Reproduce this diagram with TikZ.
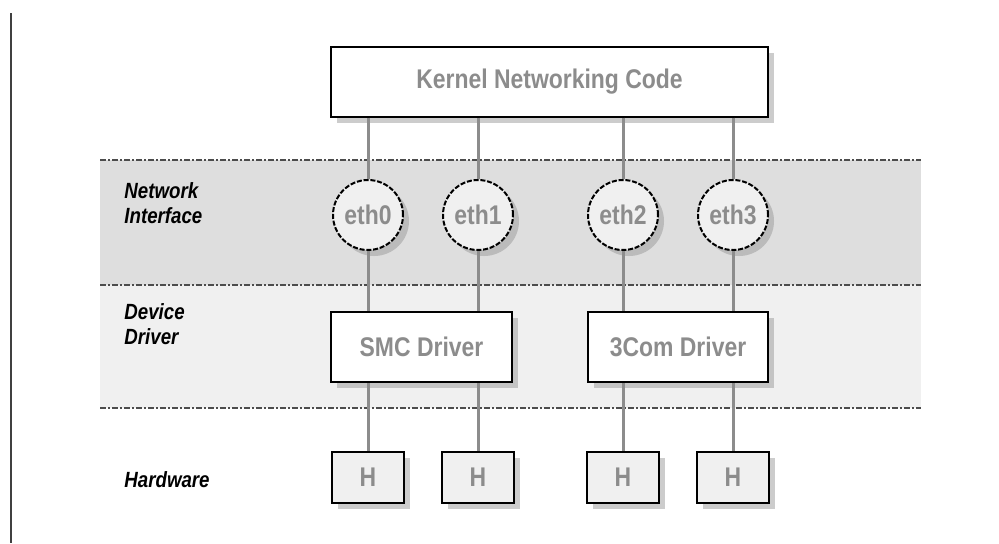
\documentclass[tikz,border=0pt]{standalone}
\usepackage{fontspec}
\setmainfont{Liberation Sans}
\newfontfamily\narrowfont[FakeStretch=0.85]{Liberation Sans}
\usetikzlibrary{shadows}

\begin{document}
\begin{tikzpicture}[x=0.5pt, y=-0.5pt,
  bandline/.style={draw=black!70, line width=0.7pt, dash pattern=on 3pt off 1pt on 1pt off 1pt},
  boxshadow/.style={drop shadow={shadow xshift=3pt, shadow yshift=-3pt, fill=black!40}},
  codebox/.style={draw=black, line width=1pt, fill=white, minimum height=35pt, inner sep=0pt,
    text=black!45, font=\narrowfont\bfseries\fontsize{13.5}{16}\selectfont, boxshadow},
  ethnode/.style={circle, draw=black, line width=1pt, dash pattern=on 2.5pt off 0.9pt, fill=black!6,
    minimum size=35pt, inner sep=0pt, text=black!45, font=\narrowfont\bfseries\fontsize{13.5}{16}\selectfont, boxshadow},
  hwbox/.style={draw=black, line width=1.3pt, fill=black!6, minimum width=36pt, minimum height=25.5pt, inner sep=0pt,
    text=black!45, font=\narrowfont\bfseries\fontsize{13.5}{16}\selectfont, boxshadow},
  layer/.style={anchor=west, align=left, inner sep=0pt, font=\narrowfont\bfseries\itshape\fontsize{11}{12.5}\selectfont},
  wire/.style={draw=black!45, line width=1.5pt}]
			%%%%% START %%%%%
			\useasboundingbox (0,0) rectangle (999,543);
			
			\draw[black!75, line width=1pt] (11,13) -- (11,543);
			
			\fill[black!13] (100,160) rectangle (921,285);
			\fill[black!6] (100,285) rectangle (921,408);
			\draw[bandline] (100,160) -- (921,160);
			\draw[bandline] (100,285) -- (921,285);
			\draw[bandline] (100,408) -- (921,408);
			
			\node[layer] (netlabel) at (124,203) {Network\\Interface};
			\node[layer] (drvlabel) at (124,324) {Device\\Driver};
			\node[layer] (hwlabel) at (124,480) {Hardware};
			
			\node[codebox, minimum width=218.5pt] (kernel) at (549.5,81.5) {Kernel Networking Code};
			
			\node[ethnode] (eth0) at (368,215) {eth0};
			\node[ethnode] (eth1) at (478,215) {eth1};
			\node[ethnode] (eth2) at (623,215) {eth2};
			\node[ethnode] (eth3) at (733,215) {eth3};
			
			\node[codebox, minimum width=90.5pt] (smc) at (421.5,347) {SMC Driver};
			\node[codebox, minimum width=90pt] (tcom) at (678,347) {3Com Driver};
			
			\node[hwbox] (hw0) at (368,477.5) {H};
			\node[hwbox] (hw1) at (478,477.5) {H};
			\node[hwbox] (hw2) at (623,477.5) {H};
			\node[hwbox] (hw3) at (733,477.5) {H};
			
			\draw[wire] (kernel.south -| eth0) -- (eth0.north);
			\draw[wire] (kernel.south -| eth1) -- (eth1.north);
			\draw[wire] (kernel.south -| eth2) -- (eth2.north);
			\draw[wire] (kernel.south -| eth3) -- (eth3.north);
			
			\draw[wire] (eth0.south) -- (smc.north -| eth0);
			\draw[wire] (eth1.south) -- (smc.north -| eth1);
			\draw[wire] (eth2.south) -- (tcom.north -| eth2);
			\draw[wire] (eth3.south) -- (tcom.north -| eth3);
			
			\draw[wire] (smc.south -| hw0) -- (hw0.north);
			\draw[wire] (smc.south -| hw1) -- (hw1.north);
			\draw[wire] (tcom.south -| hw2) -- (hw2.north);
			\draw[wire] (tcom.south -| hw3) -- (hw3.north);
			%%%%% END %%%%%
\end{tikzpicture}
\end{document}
